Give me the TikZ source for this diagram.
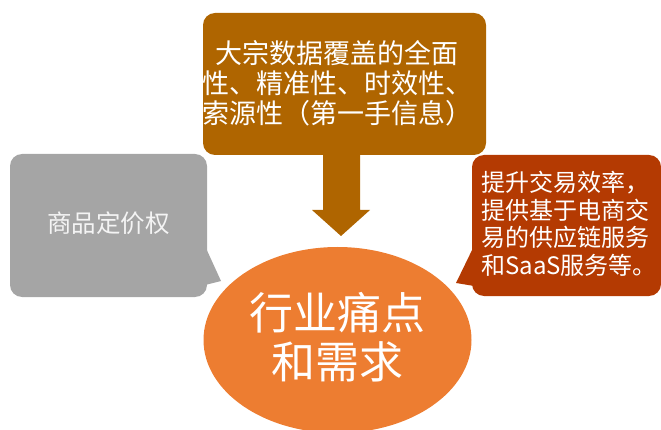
\documentclass[tikz,border=0pt]{standalone}
\usepackage{fontspec}
\setmainfont{Noto Sans CJK SC}
\usetikzlibrary{shapes.geometric,calc}
\definecolor{brownbox}{HTML}{AF6500}
\definecolor{graybox}{HTML}{A5A5A5}
\definecolor{redbox}{HTML}{B43A02}
\definecolor{orangeell}{HTML}{ED7D31}
\definecolor{softwhite}{HTML}{F4F4F4}
\tikzset{
  panel/.style={rectangle, rounded corners=12pt, inner sep=0pt, draw=none},
  txt/.style={inner sep=0pt, text=white, font=#1},
}
\begin{document}
\begin{tikzpicture}[x=1pt,y=-1pt]
\useasboundingbox (0,0) rectangle (661,430);
% top box
\node[panel, fill=brownbox, minimum width=283pt, minimum height=142pt] (topbox) at (344.5,84) {};
\node[txt={\fontsize{27pt}{30pt}\selectfont}, align=center] (toptext) at (337,83)
  {大宗数据覆盖的全面\\性、精准性、时效性、\\索源性（第一手信息）};
% block arrow
\fill[brownbox] (323,154) -- (360,154) -- (360,210) -- (370,210) -- (341,236) -- (312,210) -- (323,210) -- cycle;
% gray box with pointer
\node[panel, fill=graybox, minimum width=197pt, minimum height=143pt] (graybox) at (108.5,225.5) {};
\fill[graybox] (205,246) -- (221,281) -- (205,285) -- cycle;
\node[inner sep=0pt, text=softwhite, font=\fontsize{24.5pt}{28pt}\selectfont] (graytext) at (108.5,223) {商品定价权};
% right box with pointer
\node[panel, fill=redbox, minimum width=189pt, minimum height=141pt] (redbox) at (566.5,225.5) {};
\fill[redbox] (474,246) -- (456,283) -- (474,286) -- cycle;
\node[txt={\fontsize{24pt}{27.5pt}\selectfont}, align=left, anchor=west] (redtext) at (481,224)
  {提升交易效率，\\提供基于电商交\\易的供应链服务\\和SaaS服务等。};
% ellipse
\node[ellipse, fill=orangeell, minimum width=268pt, minimum height=186pt, inner sep=0pt] (core) at (337.5,340) {};
\node[txt={\fontsize{44pt}{49pt}\selectfont}, align=center] (coretext) at (337.5,337.5) {行业痛点\\和需求};
\end{tikzpicture}
\end{document}
